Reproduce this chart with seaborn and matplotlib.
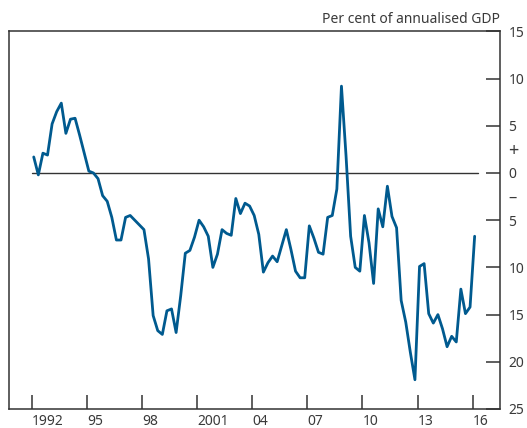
import numpy as np
import pandas as pd
import matplotlib
matplotlib.use("Agg")
import matplotlib.pyplot as plt
import matplotlib.transforms as mtrans
import seaborn as sns

# ---- data (per cent of annualised GDP), quarterly 1992Q1 - 2016Q1 ----
start_quarter = "1992Q1"
end_quarter = "2016Q1"
values = [
    1.7, -0.2, 2.1, 1.9, 5.2, 6.5, 7.4, 4.2, 5.7, 5.8,
    4.0, 2.1, 0.2, 0.0, -0.6, -2.4, -3.0, -4.7, -7.1, -7.1,
    -4.7, -4.5, -5.0, -5.5, -6.0, -9.1, -15.1, -16.7, -17.1, -14.6,
    -14.4, -16.9, -13.0, -8.5, -8.2, -6.8, -5.0, -5.7, -6.7, -10.0,
    -8.6, -6.0, -6.4, -6.6, -2.7, -4.3, -3.2, -3.5, -4.5, -6.5,
    -10.5, -9.5, -8.8, -9.4, -7.7, -6.0, -8.1, -10.4, -11.1, -11.1,
    -5.6, -6.9, -8.4, -8.6, -4.7, -4.5, -1.7, 9.2, 1.8, -6.7,
    -10.0, -10.4, -4.5, -7.4, -11.7, -3.8, -5.7, -1.4, -4.6, -5.8,
    -13.5, -15.8, -19.0, -21.9, -9.9, -9.6, -14.9, -15.9, -15.0, -16.5,
    -18.4, -17.3, -17.9, -12.3, -14.9, -14.2, -6.7,
]
x_tick_years = [1992, 1995, 1998, 2001, 2004, 2007, 2010, 2013, 2016]
x_tick_labels = ["1992", "95", "98", "2001", "04", "07", "10", "13", "16"]
y_ticks = [15, 10, 5, 0, -5, -10, -15, -20, -25]
y_tick_labels = ["15", "10", "5", "0", "5", "10", "15", "20", "25"]
left_ticks = [10, 5, -5, -10, -15, -20]
unit_label = "Per cent of annualised GDP"

quarters = pd.period_range(start_quarter, end_quarter, freq="Q")
df = pd.DataFrame({
    "t": [q.year + (q.quarter - 1) / 4 + 0.11 for q in quarters],
    "value": values,
})

sns.set_theme(style="white")
plt.rcParams["font.family"] = ["Noto Sans", "DejaVu Sans"]
TXT = "#3a3a3a"
AX = "#333333"
BLUE = "#005a8f"

fig = plt.figure(figsize=(5.27, 4.28), dpi=100)
ax = fig.add_axes([9.3 / 527, 1 - 409 / 428, (500 - 9.3) / 527, (409 - 31.4) / 428])

# zero line
ax.plot([1992.0, 2016.28], [0, 0], color=AX, lw=1.0, zorder=1)

sns.lineplot(data=df, x="t", y="value", ax=ax, color=BLUE, lw=2.0, zorder=3)

ax.set_xlim(1990.78, 2017.49)
ax.set_ylim(-25, 15)
ax.set_xlabel("")
ax.set_ylabel("")

for s in ax.spines.values():
    s.set_visible(True)
    s.set_color(AX)
    s.set_linewidth(1.1)

ax.set_xticks(x_tick_years)
ax.set_xticklabels(x_tick_labels, ha="left")
ax.set_yticks(y_ticks)
ax.set_yticklabels(y_tick_labels)
ax.set_yticks(left_ticks, minor=True)

ax.tick_params(axis="x", which="major", direction="in", length=10, width=1.1,
               color=AX, labelcolor=TXT, labelsize=10, pad=3.5, bottom=True, top=False)
ax.tick_params(axis="y", which="major", direction="in", length=10, width=1.1,
               color=AX, labelcolor=TXT, labelsize=10, pad=6,
               left=False, right=True, labelleft=False, labelright=True)
ax.tick_params(axis="y", which="minor", direction="in", length=10, width=1.1,
               color=AX, left=True, right=False)
for lab in ax.get_yticklabels():
    lab.set_ha("left")

# sign markers on the right, aligned with the digit column
shift = mtrans.ScaledTranslation(8.5 / 100, 0, fig.dpi_scale_trans)
ax.text(1.0, 2.35, "+", transform=ax.get_yaxis_transform() + shift, ha="left",
        va="center", fontsize=13, color=TXT, clip_on=False)
ax.text(1.0, -2.65, "\u2013", transform=ax.get_yaxis_transform() + shift, ha="left",
        va="center", fontsize=12, color=TXT, clip_on=False)

ax.text(1.0, 1.0, unit_label,
        transform=ax.transAxes + mtrans.ScaledTranslation(0, 4 / 100, fig.dpi_scale_trans),
        ha="right", va="bottom", fontsize=10, color=TXT)

fig.savefig("out.png", dpi=100)
